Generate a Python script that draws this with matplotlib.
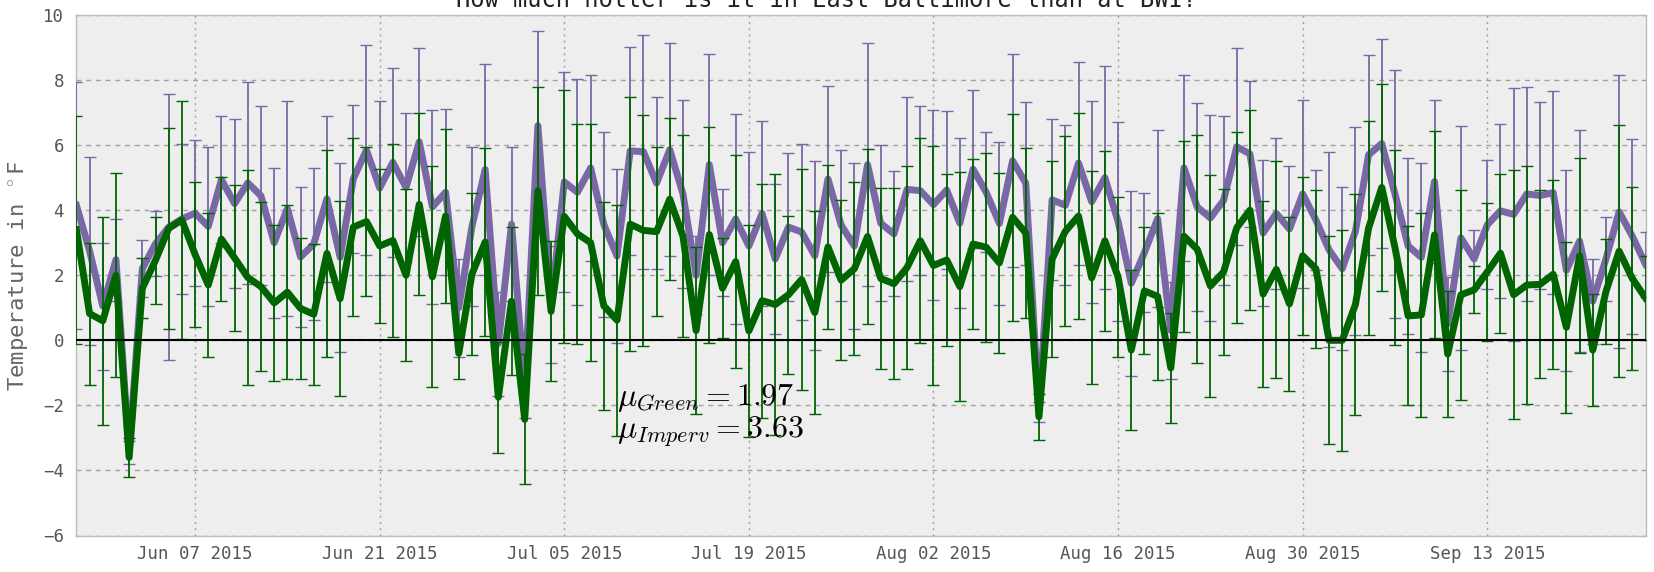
import matplotlib
matplotlib.use('Agg')
import matplotlib.pyplot as plt
import matplotlib.dates as mdates
import pandas as pd

plt.rcParams['font.family'] = ['DejaVu Sans Mono']
plt.rcParams['mathtext.fontset'] = 'cm'
plt.rcParams['axes.unicode_minus'] = True

start_date = '2015-05-29'
end_date = '2015-09-25'

imperv = [4.15, 2.75, 1.05, 2.48, -3.45, 2.2, 2.97, 3.48, 3.73, 3.91, 3.5, 4.94, 4.2, 4.84, 4.44,
          3.0, 4.05, 2.56, 2.96, 4.35, 2.55, 4.96, 5.85, 4.68, 5.47, 4.7, 6.1, 4.1, 4.55, 1.0,
          3.5, 5.25, -0.1, 3.57, -1.4, 6.6, 1.1, 4.87, 4.55, 5.3, 3.56, 2.59, 5.82, 5.8, 4.83,
          5.86, 4.5, 2.0, 5.4, 3.0, 3.73, 2.9, 3.9, 2.5, 3.48, 3.33, 2.6, 4.96, 3.54, 2.9,
          5.4, 3.6, 3.27, 4.64, 4.6, 4.17, 4.62, 3.6, 5.26, 4.55, 3.59, 5.52, 4.83, -2.2, 4.32,
          4.15, 5.45, 4.26, 5.0, 3.65, 1.75, 2.7, 3.74, 0.3, 5.3, 4.1, 3.76, 4.3, 5.95, 5.73,
          3.3, 3.9, 3.42, 4.5, 3.7, 2.78, 2.2, 3.35, 5.7, 6.05, 4.5, 2.9, 2.55, 4.88, 0.5,
          3.15, 2.5, 3.55, 3.98, 3.87, 4.5, 4.45, 4.54, 2.15, 3.05, 1.2, 2.5, 3.95, 3.2, 2.34]
imperv_err = [3.8, 2.9, 1.95, 1.26, 0.35, 0.88, 1.0, 4.1, 2.31, 2.25, 2.43, 1.96, 2.6, 3.1, 2.75,
              2.3, 3.3, 2.16, 2.33, 2.55, 2.9, 2.27, 3.22, 2.68, 2.91, 2.3, 2.9, 2.98, 2.55, 1.5,
              2.45, 3.25, 1.6, 2.37, 1.0, 2.9, 1.8, 3.38, 3.47, 2.85, 2.84, 2.68, 3.2, 3.6, 2.65,
              3.28, 2.9, 1.2, 3.4, 1.65, 3.22, 2.9, 2.85, 2.3, 2.27, 2.71, 2.9, 2.86, 2.32, 2.55,
              3.73, 2.4, 1.92, 2.83, 2.59, 2.92, 2.44, 2.61, 2.42, 1.84, 2.5, 3.28, 2.5, 0.3, 2.47,
              2.46, 3.12, 3.11, 3.42, 3.05, 2.85, 1.82, 2.72, 1.5, 2.87, 3.2, 3.16, 2.6, 3.03, 2.25,
              2.24, 2.32, 1.95, 2.9, 1.55, 3.0, 2.5, 3.2, 3.08, 3.2, 3.8, 2.7, 2.9, 2.5, 1.45,
              3.45, 0.9, 1.98, 2.68, 3.9, 3.3, 2.87, 3.11, 3.1, 3.4, 1.3, 1.3, 4.2, 3.0, 1.0]
green = [3.4, 0.82, 0.6, 2.0, -3.6, 1.6, 2.46, 3.44, 3.7, 2.64, 1.7, 3.11, 2.53, 1.93, 1.65,
         1.15, 1.48, 0.98, 0.8, 2.67, 1.28, 3.48, 3.65, 2.9, 3.07, 2.0, 4.18, 1.95, 3.82, -0.4,
         2.04, 3.02, -1.75, 1.2, -2.43, 4.6, 0.89, 3.81, 3.27, 3.0, 1.06, 0.62, 3.57, 3.38, 3.34,
         4.34, 3.2, 0.3, 3.25, 1.6, 2.42, 0.29, 1.22, 1.1, 1.4, 1.87, 0.85, 2.87, 1.85, 2.2,
         3.19, 1.9, 1.74, 2.24, 3.06, 2.3, 2.47, 1.65, 2.96, 2.86, 2.38, 3.78, 3.3, -2.35, 2.5,
         3.35, 3.82, 1.92, 3.06, 1.95, -0.3, 1.52, 1.35, -0.85, 3.2, 2.8, 1.67, 2.1, 3.46, 4.0,
         1.42, 2.18, 1.12, 2.6, 2.2, 0.0, 0.0, 1.1, 3.45, 4.7, 2.85, 0.75, 0.78, 3.24, -0.42,
         1.4, 1.55, 2.1, 2.68, 1.4, 1.7, 1.72, 2.03, 0.4, 2.6, -0.3, 1.5, 2.74, 1.9, 1.3]
green_err = [3.5, 2.18, 3.2, 3.13, 0.6, 0.92, 1.33, 3.1, 3.66, 2.24, 2.22, 1.9, 2.25, 3.3, 2.6,
             2.4, 2.67, 2.17, 2.17, 3.19, 3.0, 2.73, 2.28, 2.37, 2.96, 2.65, 2.8, 3.4, 2.68, 0.8,
             2.5, 2.9, 1.7, 2.28, 2.0, 3.2, 2.15, 3.88, 3.37, 3.64, 3.19, 3.55, 3.9, 3.55, 2.6,
             2.5, 3.1, 2.58, 3.32, 1.54, 3.28, 3.27, 3.6, 4.0, 2.43, 3.41, 3.13, 2.53, 2.47, 2.66,
             2.68, 2.79, 2.93, 3.13, 3.15, 3.67, 2.65, 3.51, 2.6, 2.9, 2.76, 3.18, 2.62, 0.7, 3.0,
             2.92, 3.17, 3.27, 2.76, 2.47, 2.46, 1.95, 2.57, 1.69, 2.94, 3.5, 3.42, 2.54, 2.94, 3.07,
             2.85, 3.33, 2.67, 2.43, 2.43, 3.2, 3.4, 3.4, 3.3, 3.19, 3.0, 2.75, 3.13, 3.18, 1.95,
             3.22, 0.72, 2.11, 2.44, 3.82, 3.65, 2.89, 2.9, 2.62, 3.0, 1.72, 1.6, 3.88, 2.81, 1.3]

tick_dates = ['2015-06-07', '2015-06-21', '2015-07-05', '2015-07-19',
              '2015-08-02', '2015-08-16', '2015-08-30', '2015-09-13']
y_ticks = [-6, -4, -2, 0, 2, 4, 6, 8, 10]

mu_green_label = r'$\mu_{Green}=1.97$'
mu_imperv_label = r'$\mu_{Imperv}=3.63$'
label_date = '2015-07-09'

dates = pd.date_range(start_date, end_date, freq='D')

W, H = 1654, 572
fig = plt.figure(figsize=(W / 100, H / 100), dpi=100)
left, right, top, bottom = 76.4, 1645.5, 15.0, 535.5
ax = fig.add_axes([left / W, 1 - bottom / H, (right - left) / W, (bottom - top) / H])
ax.set_facecolor('#eeeeee')
for s in ax.spines.values():
    s.set_color('#bcbcbc')
    s.set_linewidth(1.0)

purple = '#7a68a6'
dgreen = '#006400'

ax.errorbar(dates, imperv, yerr=imperv_err, color=purple, lw=5, elinewidth=1.3,
            capsize=4.5, capthick=1.0, zorder=3)
ax.errorbar(dates, green, yerr=green_err, color=dgreen, lw=5, elinewidth=1.3,
            capsize=4.5, capthick=1.0, zorder=4)
ax.axhline(0, color='black', lw=1.5, zorder=5)

ax.set_xlim(dates[0], dates[-1])
ax.set_ylim(-6, 10)
ax.set_yticks(y_ticks)
ax.set_xticks(pd.to_datetime(tick_dates))
ax.xaxis.set_major_formatter(mdates.DateFormatter('%b %d %Y'))

ax.yaxis.grid(True, color='#a0a0a0', linestyle=(0, (3.5, 3.5)), linewidth=1.0, zorder=0)
ax.xaxis.grid(True, color='#a0a0a0', linestyle=(0, (1.5, 3)), linewidth=1.0, zorder=0)
ax.set_axisbelow(True)
ax.tick_params(axis='both', length=0, labelcolor='#555555', labelsize=12.5)
ax.tick_params(axis='y', pad=9)
ax.tick_params(axis='x', pad=7)

ax.set_ylabel(r'Temperature in $^\circ$F', fontsize=16, color='#666666')
ax.yaxis.set_label_coords((30 - left) / (right - left), 0.5)

ax.text(pd.Timestamp(label_date), -2, mu_green_label, fontsize=23, color='black', zorder=6)
ax.text(pd.Timestamp(label_date), -3, mu_imperv_label, fontsize=23, color='black', zorder=6)

fig.text(0.5, 1 - 7 / H, 'How much hotter is it in East Baltimore than at BWI?',
         ha='center', va='baseline', fontsize=17, color='#222222')

fig.savefig('out.png', dpi=100, facecolor='white')
